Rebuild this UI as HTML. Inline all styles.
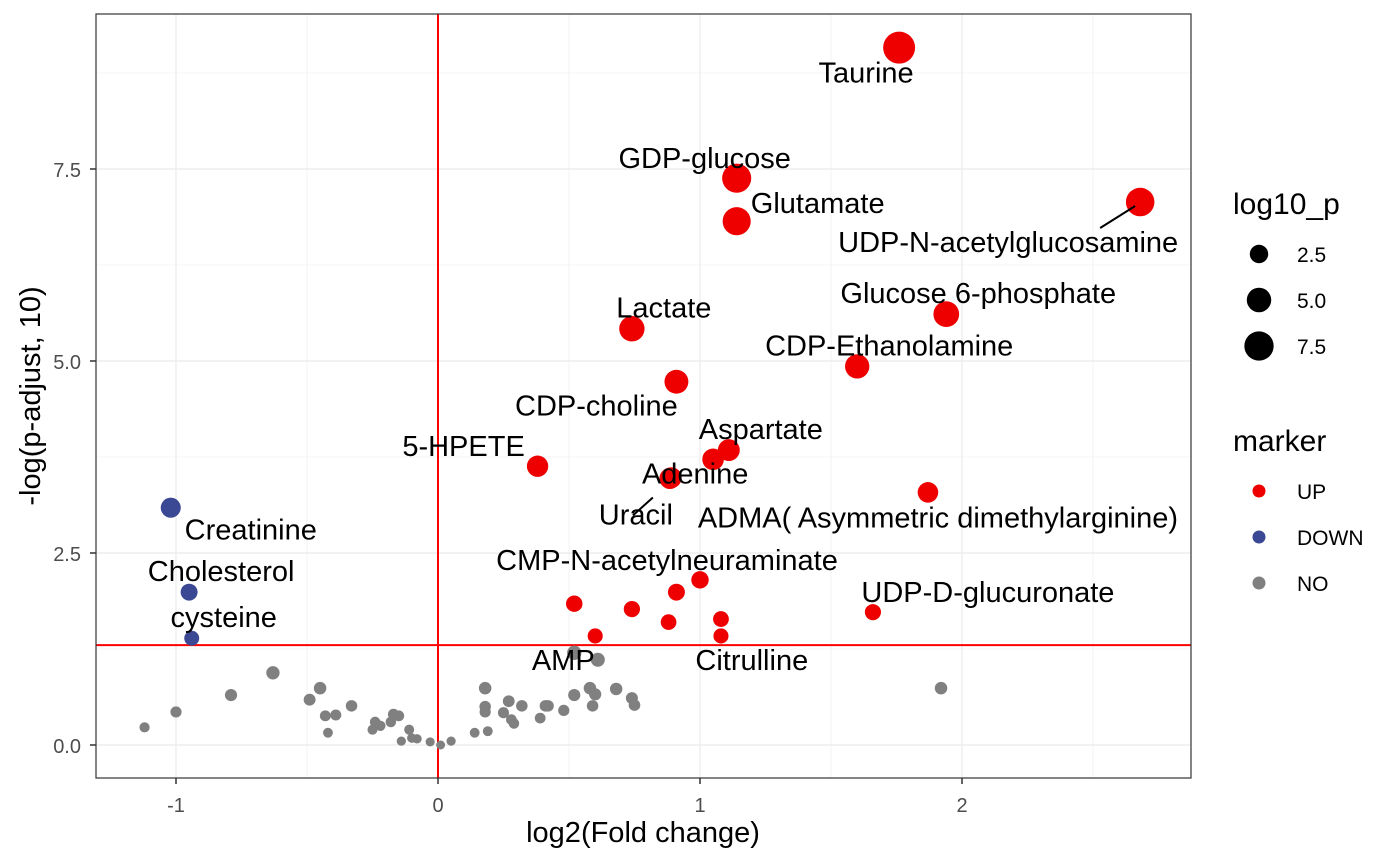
<!DOCTYPE html>
<html><head><meta charset="utf-8"><style>
body{margin:0;background:#fff;}
svg{display:block;font-family:"Liberation Sans",Arial,sans-serif;}
</style></head><body>
<svg id="chart" width="1400" height="865"></svg>
<script>
const names=["Taurine","GDP-glucose","Glutamate","UDP-N-acetylglucosamine","Glucose 6-phosphate","CDP-Ethanolamine","Lactate","CDP-choline","Aspartate","","5-HPETE","Adenine","Uracil","ADMA( Asymmetric dimethylarginine)","CMP-N-acetylneuraminate","","","","","","","","UDP-D-glucuronate","Creatinine","Cholesterol","cysteine","AMP","Citrulline"];
const fc=[1.76,1.14,1.14,2.68,1.94,1.60,0.74,0.91,1.11,1.05,0.38,0.89,0.885,1.87,1.00,0.91,0.52,0.74,0.88,1.08,1.08,0.60,1.66,-1.02,-0.95,-0.94,0.52,0.61];
const lp=[9.08,7.38,6.82,7.07,5.61,4.93,5.42,4.73,3.84,3.72,3.63,3.48,3.47,3.29,2.15,1.99,1.84,1.77,1.60,1.64,1.42,1.42,1.73,3.09,1.99,1.39,1.20,1.11];
const markers=["UP","UP","UP","UP","UP","UP","UP","UP","UP","UP","UP","UP","UP","UP","UP","UP","UP","UP","UP","UP","UP","UP","UP","DOWN","DOWN","DOWN","NO","NO"];
const greyFc=[-1.12,-1.0,-0.79,-0.63,-0.49,-0.45,-0.43,-0.42,-0.39,-0.33,-0.25,-0.24,-0.22,-0.18,-0.17,-0.15,-0.14,-0.11,-0.1,-0.08,-0.03,0.01,0.05,0.14,0.18,0.18,0.18,0.19,0.25,0.27,0.28,0.29,0.32,0.39,0.41,0.42,0.48,0.52,0.58,0.59,0.60,0.68,0.74,0.75,1.92];
const greyLp=[0.23,0.43,0.65,0.94,0.59,0.74,0.38,0.16,0.39,0.51,0.2,0.3,0.25,0.3,0.4,0.38,0.05,0.2,0.09,0.08,0.04,0.0,0.05,0.16,0.74,0.5,0.43,0.18,0.42,0.57,0.33,0.28,0.51,0.35,0.51,0.51,0.45,0.65,0.74,0.51,0.66,0.73,0.61,0.52,0.74];
const xTicks=[-1,0,1,2];
const yTicks=[0,2.5,5,7.5];
const yTickLabels=["0.0","2.5","5.0","7.5"];
const sizeLegend=[2.5,5.0,7.5];
// label offsets (pixels relative to point), index-aligned with names
const lblOff=[[-33,25],[-32,-20],[81,-18],[-132,40],[32,-21],[32,-21],[32,-21],[-80,24],[32,-21],[0,0],[-74,-20],[24,-4],[-34,36],[10,25],[-33,-20],[0,0],[0,0],[0,0],[0,0],[0,0],[0,0],[0,0],[115,-20],[80,22],[32,-21],[32,-21],[-11,7],[154,0]];
const segs={3:[[-5,4],[-40,26]],12:[[-17,19],[-37,37]]};

const X0=96,X1=1191,Y0=14,Y1=778;
const xs=v=>438+v*262;
const ys=v=>745-v*76.8;
const rs=v=>Math.sqrt(20+26*Math.max(v,0));
const col={UP:"#ee0000",DOWN:"#3b4994",NO:"#808080"};
const svg=document.getElementById('chart');
const NS="http://www.w3.org/2000/svg";
function mk(t,a,p){const e=document.createElementNS(NS,t);for(const k in a)e.setAttribute(k,a[k]);(p||svg).appendChild(e);return e;}

// grid
for(let v=-1.5;v<=2.5;v+=0.5){const x=xs(v);if(x<X0||x>X1)continue;const g=mk('line',{x1:x,x2:x,y1:Y0,y2:Y1,stroke:"#ebebeb","stroke-width":Number.isInteger(v)?1.2:0.6});
}
for(let v=0;v<=8.75;v+=1.25){const y=ys(v);const g=mk('line',{x1:X0,x2:X1,y1:y,y2:y,stroke:"#ebebeb","stroke-width":(v%2.5===0)?1.2:0.6});
}
// thresholds
let t=mk('line',{x1:xs(0),x2:xs(0),y1:Y0,y2:Y1,stroke:"#ff0000","stroke-width":2});

t=mk('line',{x1:X0,x2:X1,y1:ys(1.3),y2:ys(1.3),stroke:"#ff0000","stroke-width":2});

// grey points
greyFc.forEach((v,i)=>{const c=mk('circle',{cx:xs(v),cy:ys(greyLp[i]),r:rs(greyLp[i]),fill:col.NO});
});
// named points
fc.forEach((v,i)=>{const c=mk('circle',{cx:xs(v),cy:ys(lp[i]),r:rs(lp[i]),fill:col[markers[i]]});
});
// labels
fc.forEach((v,i)=>{if(!names[i])return;const px=xs(v),py=ys(lp[i]);
if(segs[i]){const s=segs[i];const l=mk('line',{x1:px+s[0][0],y1:py+s[0][1],x2:px+s[1][0],y2:py+s[1][1],stroke:"#000","stroke-width":2});
}
const tx=mk('text',{x:px+lblOff[i][0],y:py+lblOff[i][1]+10,"text-anchor":"middle","font-size":29,fill:"#000"});tx.textContent=names[i];
});
// panel border
t=mk('rect',{x:X0,y:Y0,width:X1-X0,height:Y1-Y0,fill:"none",stroke:"#333","stroke-width":1.2});

// ticks
xTicks.forEach(v=>{const x=xs(v);const l=mk('line',{x1:x,x2:x,y1:Y1,y2:Y1+6,stroke:"#333","stroke-width":1.5});

const tx=mk('text',{x:x,y:Y1+34,"text-anchor":"middle","font-size":20,fill:"#4d4d4d"});tx.textContent=v;
});
yTicks.forEach((v,i)=>{const y=ys(v);const l=mk('line',{x1:X0-6,x2:X0,y1:y,y2:y,stroke:"#333","stroke-width":1.5});

const tx=mk('text',{x:X0-15,y:y+8,"text-anchor":"end","font-size":20,fill:"#4d4d4d"});tx.textContent=yTickLabels[i];
});
// axis titles
t=mk('text',{x:643,y:842,"text-anchor":"middle","font-size":29});t.textContent="log2(Fold change)";

t=mk('text',{x:0,y:0,"text-anchor":"middle","font-size":29,transform:"translate(40,396) rotate(-90)"});t.textContent="-log(p-adjust, 10)";

// size legend
t=mk('text',{x:1233,y:214,"font-size":30});t.textContent="log10_p";

sizeLegend.forEach((v,i)=>{const y=254+i*46;const c=mk('circle',{cx:1259,cy:y,r:rs(v),fill:"#000"});

const tx=mk('text',{x:1297,y:y+8,"font-size":21});tx.textContent=v.toFixed(1);
});
// marker legend
t=mk('text',{x:1233,y:451,"font-size":30});t.textContent="marker";

["UP","DOWN","NO"].forEach((m,i)=>{const y=491+i*46;const c=mk('circle',{cx:1259,cy:y,r:6.5,fill:col[m]});

const tx=mk('text',{x:1297,y:y+8,"font-size":21});tx.textContent=m;
});
</script>
</body></html>
